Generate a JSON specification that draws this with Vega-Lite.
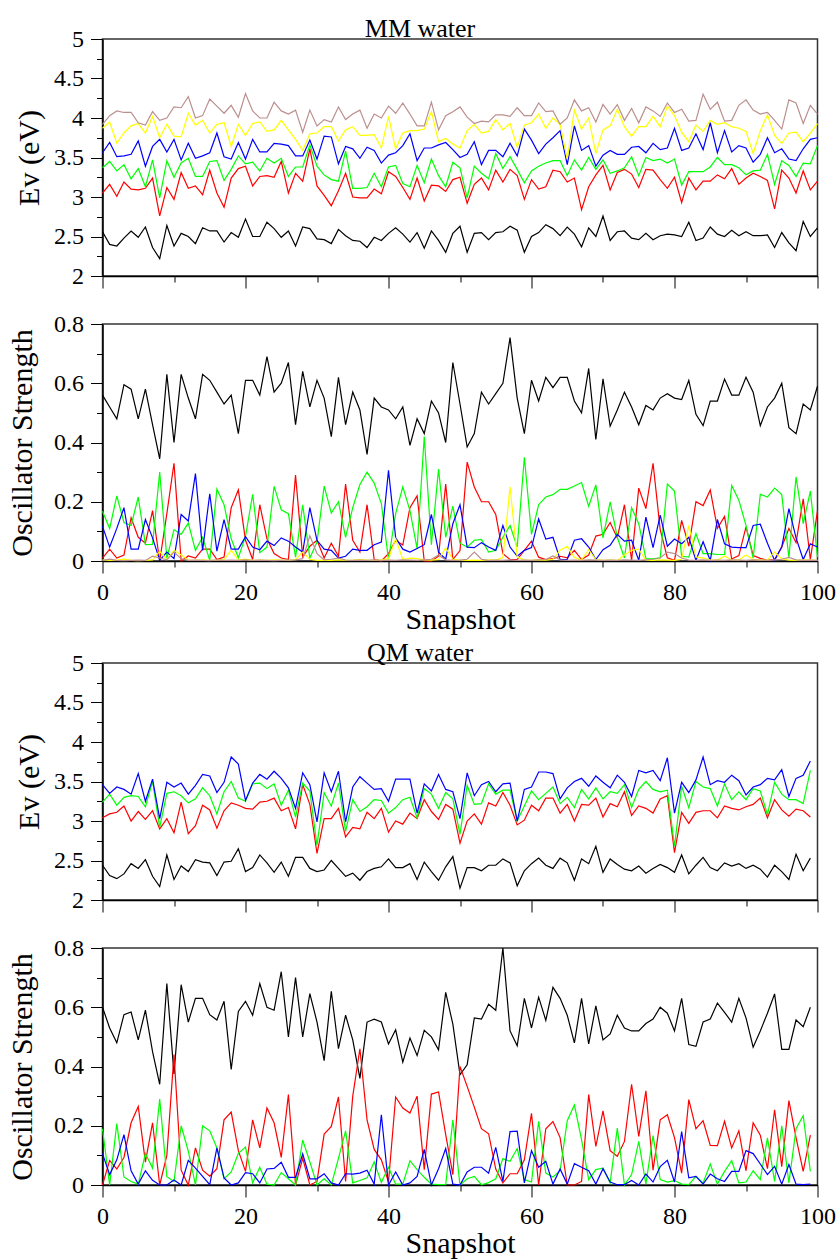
{
"$schema": "https://vega.github.io/schema/vega-lite/v6.json",
"background": "white",
"padding": {"left": 6.5, "top": 15, "right": 5, "bottom": 5},
"bounds": "flush",
"spacing": 48,
"config": {
  "font": "Liberation Serif",
  "view": {"stroke": "#333", "strokeWidth": 1.5},
  "axis": {"domainColor": "black", "domainWidth": 1.5, "tickColor": "black", "tickWidth": 1, "labelFont": "Liberation Serif", "labelFontSize": 24, "labelColor": "black", "labelPadding": 7, "titleFont": "Liberation Serif", "titleFontSize": 30, "titleFontWeight": "normal", "titleColor": "black", "grid": false, "labelOverlap": false, "labelFlush": false},
  "title": {"font": "Liberation Serif", "fontSize": 26, "fontWeight": "normal", "color": "black", "anchor": "middle", "offset": -15, "dx": -40}
},
"datasets": {
"mm_ev": [
{"snapshot":0,"S0":2.56,"S1":3.05,"S2":3.37,"S3":3.56,"S4":3.87,"S5":3.92},
{"snapshot":1,"S0":2.40,"S1":3.16,"S2":3.45,"S3":3.69,"S4":3.95,"S5":4.03},
{"snapshot":2,"S0":2.38,"S1":3.01,"S2":3.33,"S3":3.51,"S4":3.68,"S5":4.09},
{"snapshot":3,"S0":2.48,"S1":3.19,"S2":3.41,"S3":3.52,"S4":3.81,"S5":4.07},
{"snapshot":4,"S0":2.57,"S1":3.10,"S2":3.23,"S3":3.54,"S4":3.90,"S5":4.07},
{"snapshot":5,"S0":2.49,"S1":3.09,"S2":3.36,"S3":3.71,"S4":3.93,"S5":3.94},
{"snapshot":6,"S0":2.62,"S1":3.11,"S2":3.13,"S3":3.39,"S4":3.81,"S5":3.91},
{"snapshot":7,"S0":2.36,"S1":3.24,"S2":3.47,"S3":3.64,"S4":4.02,"S5":4.08},
{"snapshot":8,"S0":2.22,"S1":2.76,"S2":2.99,"S3":3.73,"S4":3.75,"S5":3.97},
{"snapshot":9,"S0":2.64,"S1":3.12,"S2":3.46,"S3":3.57,"S4":3.92,"S5":4.00},
{"snapshot":10,"S0":2.38,"S1":2.97,"S2":3.25,"S3":3.73,"S4":3.77,"S5":4.14},
{"snapshot":11,"S0":2.54,"S1":3.31,"S2":3.43,"S3":3.47,"S4":3.76,"S5":4.13},
{"snapshot":12,"S0":2.50,"S1":3.11,"S2":3.49,"S3":3.68,"S4":4.06,"S5":4.27},
{"snapshot":13,"S0":2.41,"S1":3.14,"S2":3.26,"S3":3.49,"S4":3.91,"S5":4.00},
{"snapshot":14,"S0":2.61,"S1":3.03,"S2":3.26,"S3":3.52,"S4":3.97,"S5":4.03},
{"snapshot":15,"S0":2.57,"S1":3.34,"S2":3.45,"S3":3.56,"S4":3.81,"S5":4.24},
{"snapshot":16,"S0":2.57,"S1":3.05,"S2":3.46,"S3":3.81,"S4":3.92,"S5":4.15},
{"snapshot":17,"S0":2.43,"S1":2.87,"S2":3.21,"S3":3.51,"S4":3.94,"S5":4.06},
{"snapshot":18,"S0":2.55,"S1":3.24,"S2":3.35,"S3":3.48,"S4":3.64,"S5":4.16},
{"snapshot":19,"S0":2.49,"S1":3.36,"S2":3.52,"S3":3.69,"S4":3.92,"S5":4.01},
{"snapshot":20,"S0":2.72,"S1":3.39,"S2":3.42,"S3":3.48,"S4":3.78,"S5":4.31},
{"snapshot":21,"S0":2.50,"S1":3.14,"S2":3.44,"S3":3.73,"S4":3.93,"S5":4.09},
{"snapshot":22,"S0":2.50,"S1":3.26,"S2":3.33,"S3":3.57,"S4":3.95,"S5":4.00},
{"snapshot":23,"S0":2.68,"S1":3.27,"S2":3.49,"S3":3.57,"S4":3.83,"S5":4.00},
{"snapshot":24,"S0":2.60,"S1":3.25,"S2":3.43,"S3":3.68,"S4":3.85,"S5":4.20},
{"snapshot":25,"S0":2.49,"S1":3.45,"S2":3.49,"S3":3.67,"S4":3.97,"S5":4.09},
{"snapshot":26,"S0":2.57,"S1":3.05,"S2":3.26,"S3":3.65,"S4":3.85,"S5":4.05},
{"snapshot":27,"S0":2.38,"S1":3.30,"S2":3.38,"S3":3.52,"S4":3.73,"S5":4.10},
{"snapshot":28,"S0":2.62,"S1":3.20,"S2":3.38,"S3":3.52,"S4":3.59,"S5":3.82},
{"snapshot":29,"S0":2.60,"S1":3.61,"S2":3.66,"S3":3.72,"S4":3.80,"S5":4.10},
{"snapshot":30,"S0":2.47,"S1":3.14,"S2":3.39,"S3":3.48,"S4":3.81,"S5":3.90},
{"snapshot":31,"S0":2.46,"S1":3.02,"S2":3.28,"S3":3.77,"S4":3.89,"S5":3.98},
{"snapshot":32,"S0":2.41,"S1":2.89,"S2":3.22,"S3":3.76,"S4":3.89,"S5":3.95},
{"snapshot":33,"S0":2.59,"S1":3.08,"S2":3.20,"S3":3.42,"S4":3.71,"S5":4.14},
{"snapshot":34,"S0":2.51,"S1":3.30,"S2":3.58,"S3":3.64,"S4":3.85,"S5":3.98},
{"snapshot":35,"S0":2.45,"S1":3.00,"S2":3.11,"S3":3.61,"S4":3.89,"S5":4.05},
{"snapshot":36,"S0":2.44,"S1":2.99,"S2":3.11,"S3":3.49,"S4":3.78,"S5":4.10},
{"snapshot":37,"S0":2.36,"S1":2.99,"S2":3.12,"S3":3.63,"S4":3.78,"S5":3.87},
{"snapshot":38,"S0":2.49,"S1":3.10,"S2":3.30,"S3":3.59,"S4":3.79,"S5":4.05},
{"snapshot":39,"S0":2.45,"S1":3.04,"S2":3.13,"S3":3.43,"S4":3.62,"S5":4.00},
{"snapshot":40,"S0":2.54,"S1":3.32,"S2":3.38,"S3":3.53,"S4":4.02,"S5":4.15},
{"snapshot":41,"S0":2.61,"S1":3.26,"S2":3.40,"S3":3.56,"S4":3.61,"S5":4.06},
{"snapshot":42,"S0":2.53,"S1":3.12,"S2":3.17,"S3":3.65,"S4":3.81,"S5":4.19},
{"snapshot":43,"S0":2.43,"S1":2.97,"S2":3.13,"S3":3.80,"S4":3.84,"S5":4.05},
{"snapshot":44,"S0":2.55,"S1":3.24,"S2":3.40,"S3":3.46,"S4":3.84,"S5":3.90},
{"snapshot":45,"S0":2.35,"S1":2.95,"S2":3.18,"S3":3.62,"S4":3.86,"S5":3.90},
{"snapshot":46,"S0":2.57,"S1":3.15,"S2":3.48,"S3":3.62,"S4":4.08,"S5":4.20},
{"snapshot":47,"S0":2.45,"S1":3.14,"S2":3.27,"S3":3.66,"S4":3.70,"S5":3.85},
{"snapshot":48,"S0":2.30,"S1":3.07,"S2":3.13,"S3":3.69,"S4":3.74,"S5":4.03},
{"snapshot":49,"S0":2.54,"S1":3.22,"S2":3.44,"S3":3.60,"S4":3.67,"S5":4.08},
{"snapshot":50,"S0":2.63,"S1":3.25,"S2":3.37,"S3":3.50,"S4":3.62,"S5":4.14},
{"snapshot":51,"S0":2.30,"S1":2.92,"S2":2.99,"S3":3.54,"S4":3.84,"S5":4.01},
{"snapshot":52,"S0":2.54,"S1":3.16,"S2":3.39,"S3":3.70,"S4":3.92,"S5":3.93},
{"snapshot":53,"S0":2.55,"S1":3.24,"S2":3.30,"S3":3.41,"S4":3.81,"S5":3.96},
{"snapshot":54,"S0":2.46,"S1":3.09,"S2":3.23,"S3":3.59,"S4":3.83,"S5":3.95},
{"snapshot":55,"S0":2.55,"S1":3.34,"S2":3.55,"S3":3.59,"S4":3.98,"S5":4.04},
{"snapshot":56,"S0":2.56,"S1":3.19,"S2":3.36,"S3":3.51,"S4":3.85,"S5":4.04},
{"snapshot":57,"S0":2.63,"S1":3.35,"S2":3.51,"S3":3.68,"S4":3.93,"S5":4.02},
{"snapshot":58,"S0":2.58,"S1":3.27,"S2":3.35,"S3":3.52,"S4":3.63,"S5":4.13},
{"snapshot":59,"S0":2.30,"S1":2.97,"S2":3.18,"S3":3.86,"S4":3.91,"S5":4.03},
{"snapshot":60,"S0":2.50,"S1":3.22,"S2":3.33,"S3":3.72,"S4":3.94,"S5":4.03},
{"snapshot":61,"S0":2.55,"S1":3.10,"S2":3.39,"S3":3.55,"S4":4.05,"S5":4.19},
{"snapshot":62,"S0":2.65,"S1":3.13,"S2":3.43,"S3":3.67,"S4":3.87,"S5":4.08},
{"snapshot":63,"S0":2.60,"S1":3.34,"S2":3.46,"S3":3.75,"S4":4.00,"S5":4.09},
{"snapshot":64,"S0":2.51,"S1":3.32,"S2":3.46,"S3":3.84,"S4":3.92,"S5":3.92},
{"snapshot":65,"S0":2.62,"S1":3.19,"S2":3.27,"S3":3.41,"S4":3.48,"S5":4.00},
{"snapshot":66,"S0":2.53,"S1":3.24,"S2":3.47,"S3":3.90,"S4":4.10,"S5":4.23},
{"snapshot":67,"S0":2.37,"S1":2.84,"S2":3.34,"S3":3.59,"S4":3.86,"S5":4.09},
{"snapshot":68,"S0":2.61,"S1":3.13,"S2":3.50,"S3":3.65,"S4":4.00,"S5":4.13},
{"snapshot":69,"S0":2.50,"S1":3.28,"S2":3.35,"S3":3.39,"S4":3.55,"S5":3.95},
{"snapshot":70,"S0":2.76,"S1":3.40,"S2":3.47,"S3":3.53,"S4":3.85,"S5":4.17},
{"snapshot":71,"S0":2.45,"S1":3.09,"S2":3.30,"S3":3.59,"S4":3.90,"S5":4.05},
{"snapshot":72,"S0":2.56,"S1":3.31,"S2":3.33,"S3":3.54,"S4":4.11,"S5":4.17},
{"snapshot":73,"S0":2.57,"S1":3.35,"S2":3.37,"S3":3.54,"S4":3.89,"S5":3.97},
{"snapshot":74,"S0":2.48,"S1":3.29,"S2":3.51,"S3":3.63,"S4":3.77,"S5":4.12},
{"snapshot":75,"S0":2.46,"S1":3.12,"S2":3.27,"S3":3.64,"S4":3.89,"S5":3.94},
{"snapshot":76,"S0":2.54,"S1":3.35,"S2":3.50,"S3":3.56,"S4":3.89,"S5":4.14},
{"snapshot":77,"S0":2.46,"S1":3.34,"S2":3.46,"S3":3.68,"S4":4.02,"S5":4.09},
{"snapshot":78,"S0":2.51,"S1":3.22,"S2":3.48,"S3":3.60,"S4":3.89,"S5":4.02},
{"snapshot":79,"S0":2.53,"S1":3.11,"S2":3.43,"S3":3.62,"S4":4.15,"S5":4.19},
{"snapshot":80,"S0":2.52,"S1":3.25,"S2":3.48,"S3":3.87,"S4":4.03,"S5":4.07},
{"snapshot":81,"S0":2.50,"S1":2.93,"S2":3.15,"S3":3.59,"S4":3.82,"S5":4.11},
{"snapshot":82,"S0":2.68,"S1":3.24,"S2":3.32,"S3":3.62,"S4":3.70,"S5":3.96},
{"snapshot":83,"S0":2.45,"S1":3.09,"S2":3.32,"S3":3.80,"S4":3.91,"S5":3.97},
{"snapshot":84,"S0":2.48,"S1":3.20,"S2":3.32,"S3":3.60,"S4":3.83,"S5":4.30},
{"snapshot":85,"S0":2.62,"S1":3.20,"S2":3.38,"S3":3.94,"S4":3.97,"S5":4.11},
{"snapshot":86,"S0":2.53,"S1":3.28,"S2":3.50,"S3":3.56,"S4":3.92,"S5":4.20},
{"snapshot":87,"S0":2.50,"S1":3.23,"S2":3.41,"S3":3.84,"S4":3.94,"S5":3.96},
{"snapshot":88,"S0":2.58,"S1":3.36,"S2":3.41,"S3":3.57,"S4":3.89,"S5":3.97},
{"snapshot":89,"S0":2.51,"S1":3.16,"S2":3.37,"S3":3.65,"S4":3.87,"S5":4.16},
{"snapshot":90,"S0":2.56,"S1":3.24,"S2":3.28,"S3":3.62,"S4":3.83,"S5":4.23},
{"snapshot":91,"S0":2.51,"S1":3.30,"S2":3.33,"S3":3.44,"S4":3.55,"S5":4.10},
{"snapshot":92,"S0":2.51,"S1":3.26,"S2":3.34,"S3":3.54,"S4":3.84,"S5":4.05},
{"snapshot":93,"S0":2.52,"S1":3.21,"S2":3.54,"S3":3.75,"S4":4.04,"S5":4.07},
{"snapshot":94,"S0":2.36,"S1":2.85,"S2":3.16,"S3":3.56,"S4":3.78,"S5":3.97},
{"snapshot":95,"S0":2.55,"S1":3.34,"S2":3.46,"S3":3.61,"S4":3.68,"S5":3.86},
{"snapshot":96,"S0":2.42,"S1":3.24,"S2":3.40,"S3":3.48,"S4":3.81,"S5":4.23},
{"snapshot":97,"S0":2.32,"S1":3.05,"S2":3.26,"S3":3.46,"S4":3.82,"S5":4.19},
{"snapshot":98,"S0":2.69,"S1":3.33,"S2":3.43,"S3":3.61,"S4":3.70,"S5":3.93},
{"snapshot":99,"S0":2.50,"S1":3.09,"S2":3.42,"S3":3.73,"S4":3.81,"S5":4.16},
{"snapshot":100,"S0":2.61,"S1":3.20,"S2":3.65,"S3":3.75,"S4":3.93,"S5":4.05}
],
"mm_f": [
{"snapshot":0,"S0":0.56,"S1":0.01,"S2":0.168,"S3":0.117,"S4":0.004,"S5":0.002},
{"snapshot":1,"S0":0.52,"S1":0.04,"S2":0.11,"S3":0.047,"S4":0.002,"S5":0.006},
{"snapshot":2,"S0":0.48,"S1":0.01,"S2":0.22,"S3":0.11,"S4":0.003,"S5":0.002},
{"snapshot":3,"S0":0.595,"S1":0.02,"S2":0.13,"S3":0.18,"S4":0.006,"S5":0.001},
{"snapshot":4,"S0":0.58,"S1":0.146,"S2":0.12,"S3":0.04,"S4":0.002,"S5":0.002},
{"snapshot":5,"S0":0.48,"S1":0.08,"S2":0.216,"S3":0.04,"S4":0.001,"S5":0.003},
{"snapshot":6,"S0":0.58,"S1":0.06,"S2":0.055,"S3":0.14,"S4":0.002,"S5":0.002},
{"snapshot":7,"S0":0.46,"S1":0.17,"S2":0.056,"S3":0.078,"S4":0.004,"S5":0.016},
{"snapshot":8,"S0":0.345,"S1":0.0,"S2":0.30,"S3":0.002,"S4":0.033,"S5":0.01},
{"snapshot":9,"S0":0.63,"S1":0.16,"S2":0.009,"S3":0.03,"S4":0.005,"S5":0.004},
{"snapshot":10,"S0":0.40,"S1":0.33,"S2":0.106,"S3":0.008,"S4":0.036,"S5":0.03},
{"snapshot":11,"S0":0.63,"S1":0.0,"S2":0.09,"S3":0.157,"S4":0.02,"S5":0.008},
{"snapshot":12,"S0":0.55,"S1":0.017,"S2":0.128,"S3":0.135,"S4":0.003,"S5":0.002},
{"snapshot":13,"S0":0.48,"S1":0.01,"S2":0.036,"S3":0.295,"S4":0.002,"S5":0.003},
{"snapshot":14,"S0":0.63,"S1":0.04,"S2":0.08,"S3":0.036,"S4":0.004,"S5":0.002},
{"snapshot":15,"S0":0.61,"S1":0.04,"S2":0.002,"S3":0.227,"S4":0.002,"S5":0.001},
{"snapshot":16,"S0":0.57,"S1":0.005,"S2":0.243,"S3":0.033,"S4":0.003,"S5":0.004},
{"snapshot":17,"S0":0.53,"S1":0.013,"S2":0.19,"S3":0.14,"S4":0.005,"S5":0.002},
{"snapshot":18,"S0":0.56,"S1":0.18,"S2":0.075,"S3":0.04,"S4":0.036,"S5":0.003},
{"snapshot":19,"S0":0.43,"S1":0.24,"S2":0.011,"S3":0.04,"S4":0.004,"S5":0.002},
{"snapshot":20,"S0":0.61,"S1":0.07,"S2":0.083,"S3":0.082,"S4":0.006,"S5":0.004},
{"snapshot":21,"S0":0.61,"S1":0.005,"S2":0.225,"S3":0.047,"S4":0.002,"S5":0.002},
{"snapshot":22,"S0":0.56,"S1":0.19,"S2":0.028,"S3":0.038,"S4":0.003,"S5":0.003},
{"snapshot":23,"S0":0.69,"S1":0.075,"S2":0.047,"S3":0.067,"S4":0.002,"S5":0.002},
{"snapshot":24,"S0":0.57,"S1":0.025,"S2":0.252,"S3":0.052,"S4":0.004,"S5":0.001},
{"snapshot":25,"S0":0.60,"S1":0.01,"S2":0.173,"S3":0.078,"S4":0.003,"S5":0.002},
{"snapshot":26,"S0":0.67,"S1":0.005,"S2":0.16,"S3":0.067,"S4":0.002,"S5":0.003},
{"snapshot":27,"S0":0.46,"S1":0.29,"S2":0.013,"S3":0.047,"S4":0.005,"S5":0.004},
{"snapshot":28,"S0":0.64,"S1":0.013,"S2":0.19,"S3":0.03,"S4":0.03,"S5":0.008},
{"snapshot":29,"S0":0.52,"S1":0.05,"S2":0.01,"S3":0.18,"S4":0.006,"S5":0.085},
{"snapshot":30,"S0":0.61,"S1":0.07,"S2":0.064,"S3":0.07,"S4":0.002,"S5":0.025},
{"snapshot":31,"S0":0.55,"S1":0.01,"S2":0.253,"S3":0.04,"S4":0.003,"S5":0.004},
{"snapshot":32,"S0":0.42,"S1":0.06,"S2":0.162,"S3":0.036,"S4":0.002,"S5":0.006},
{"snapshot":33,"S0":0.62,"S1":0.016,"S2":0.20,"S3":0.01,"S4":0.004,"S5":0.01},
{"snapshot":34,"S0":0.46,"S1":0.26,"S2":0.08,"S3":0.016,"S4":0.002,"S5":0.003},
{"snapshot":35,"S0":0.57,"S1":0.07,"S2":0.18,"S3":0.04,"S4":0.003,"S5":0.002},
{"snapshot":36,"S0":0.51,"S1":0.03,"S2":0.258,"S3":0.036,"S4":0.005,"S5":0.003},
{"snapshot":37,"S0":0.36,"S1":0.19,"S2":0.30,"S3":0.036,"S4":0.003,"S5":0.002},
{"snapshot":38,"S0":0.55,"S1":0.005,"S2":0.263,"S3":0.055,"S4":0.002,"S5":0.004},
{"snapshot":39,"S0":0.52,"S1":0.0,"S2":0.194,"S3":0.064,"S4":0.004,"S5":0.002},
{"snapshot":40,"S0":0.51,"S1":0.025,"S2":0.005,"S3":0.306,"S4":0.008,"S5":0.003},
{"snapshot":41,"S0":0.48,"S1":0.07,"S2":0.16,"S3":0.078,"S4":0.075,"S5":0.002},
{"snapshot":42,"S0":0.52,"S1":0.054,"S2":0.25,"S3":0.04,"S4":0.005,"S5":0.004},
{"snapshot":43,"S0":0.39,"S1":0.18,"S2":0.17,"S3":0.03,"S4":0.01,"S5":0.003},
{"snapshot":44,"S0":0.48,"S1":0.22,"S2":0.042,"S3":0.042,"S4":0.008,"S5":0.002},
{"snapshot":45,"S0":0.43,"S1":0.0,"S2":0.42,"S3":0.055,"S4":0.004,"S5":0.004},
{"snapshot":46,"S0":0.54,"S1":0.0,"S2":0.055,"S3":0.157,"S4":0.003,"S5":0.006},
{"snapshot":47,"S0":0.50,"S1":0.016,"S2":0.31,"S3":0.03,"S4":0.005,"S5":0.02},
{"snapshot":48,"S0":0.40,"S1":0.26,"S2":0.08,"S3":0.006,"S4":0.044,"S5":0.004},
{"snapshot":49,"S0":0.67,"S1":0.005,"S2":0.185,"S3":0.126,"S4":0.006,"S5":0.002},
{"snapshot":50,"S0":0.53,"S1":0.035,"S2":0.06,"S3":0.19,"S4":0.003,"S5":0.003},
{"snapshot":51,"S0":0.385,"S1":0.334,"S2":0.047,"S3":0.047,"S4":0.002,"S5":0.006},
{"snapshot":52,"S0":0.43,"S1":0.25,"S2":0.07,"S3":0.045,"S4":0.003,"S5":0.03},
{"snapshot":53,"S0":0.57,"S1":0.20,"S2":0.073,"S3":0.062,"S4":0.002,"S5":0.006},
{"snapshot":54,"S0":0.53,"S1":0.20,"S2":0.03,"S3":0.047,"S4":0.004,"S5":0.002},
{"snapshot":55,"S0":0.565,"S1":0.157,"S2":0.036,"S3":0.036,"S4":0.003,"S5":0.003},
{"snapshot":56,"S0":0.60,"S1":0.025,"S2":0.08,"S3":0.12,"S4":0.012,"S5":0.002},
{"snapshot":57,"S0":0.754,"S1":0.005,"S2":0.12,"S3":0.047,"S4":0.25,"S5":0.004},
{"snapshot":58,"S0":0.55,"S1":0.005,"S2":0.047,"S3":0.016,"S4":0.014,"S5":0.002},
{"snapshot":59,"S0":0.43,"S1":0.036,"S2":0.35,"S3":0.036,"S4":0.003,"S5":0.003},
{"snapshot":60,"S0":0.61,"S1":0.067,"S2":0.09,"S3":0.045,"S4":0.002,"S5":0.002},
{"snapshot":61,"S0":0.54,"S1":0.013,"S2":0.19,"S3":0.142,"S4":0.004,"S5":0.004},
{"snapshot":62,"S0":0.62,"S1":0.005,"S2":0.216,"S3":0.074,"S4":0.003,"S5":0.005},
{"snapshot":63,"S0":0.585,"S1":0.008,"S2":0.224,"S3":0.08,"S4":0.006,"S5":0.017},
{"snapshot":64,"S0":0.62,"S1":0.016,"S2":0.242,"S3":0.005,"S4":0.036,"S5":0.004},
{"snapshot":65,"S0":0.62,"S1":0.011,"S2":0.242,"S3":0.005,"S4":0.05,"S5":0.002},
{"snapshot":66,"S0":0.54,"S1":0.036,"S2":0.253,"S3":0.07,"S4":0.012,"S5":0.003},
{"snapshot":67,"S0":0.50,"S1":0.005,"S2":0.265,"S3":0.075,"S4":0.004,"S5":0.002},
{"snapshot":68,"S0":0.65,"S1":0.02,"S2":0.185,"S3":0.047,"S4":0.038,"S5":0.004},
{"snapshot":69,"S0":0.41,"S1":0.084,"S2":0.257,"S3":0.005,"S4":0.005,"S5":0.003},
{"snapshot":70,"S0":0.615,"S1":0.09,"S2":0.078,"S3":0.038,"S4":0.002,"S5":0.002},
{"snapshot":71,"S0":0.455,"S1":0.13,"S2":0.20,"S3":0.053,"S4":0.003,"S5":0.003},
{"snapshot":72,"S0":0.51,"S1":0.078,"S2":0.08,"S3":0.09,"S4":0.002,"S5":0.002},
{"snapshot":73,"S0":0.57,"S1":0.19,"S2":0.01,"S3":0.067,"S4":0.02,"S5":0.004},
{"snapshot":74,"S0":0.52,"S1":0.002,"S2":0.18,"S3":0.07,"S4":0.036,"S5":0.003},
{"snapshot":75,"S0":0.46,"S1":0.246,"S2":0.126,"S3":0.002,"S4":0.04,"S5":0.002},
{"snapshot":76,"S0":0.525,"S1":0.177,"S2":0.008,"S3":0.148,"S4":0.003,"S5":0.004},
{"snapshot":77,"S0":0.51,"S1":0.33,"S2":0.007,"S3":0.045,"S4":0.002,"S5":0.006},
{"snapshot":78,"S0":0.55,"S1":0.106,"S2":0.011,"S3":0.155,"S4":0.004,"S5":0.01},
{"snapshot":79,"S0":0.565,"S1":0.011,"S2":0.26,"S3":0.05,"S4":0.003,"S5":0.03},
{"snapshot":80,"S0":0.55,"S1":0.002,"S2":0.236,"S3":0.074,"S4":0.002,"S5":0.025},
{"snapshot":81,"S0":0.545,"S1":0.137,"S2":0.016,"S3":0.058,"S4":0.006,"S5":0.01},
{"snapshot":82,"S0":0.61,"S1":0.05,"S2":0.013,"S3":0.08,"S4":0.12,"S5":0.003},
{"snapshot":83,"S0":0.495,"S1":0.20,"S2":0.092,"S3":0.002,"S4":0.014,"S5":0.002},
{"snapshot":84,"S0":0.457,"S1":0.187,"S2":0.025,"S3":0.065,"S4":0.01,"S5":0.004},
{"snapshot":85,"S0":0.54,"S1":0.24,"S2":0.025,"S3":0.002,"S4":0.004,"S5":0.002},
{"snapshot":86,"S0":0.54,"S1":0.11,"S2":0.022,"S3":0.14,"S4":0.003,"S5":0.003},
{"snapshot":87,"S0":0.614,"S1":0.15,"S2":0.022,"S3":0.058,"S4":0.016,"S5":0.002},
{"snapshot":88,"S0":0.56,"S1":0.007,"S2":0.255,"S3":0.047,"S4":0.004,"S5":0.004},
{"snapshot":89,"S0":0.56,"S1":0.018,"S2":0.205,"S3":0.045,"S4":0.003,"S5":0.003},
{"snapshot":90,"S0":0.62,"S1":0.115,"S2":0.12,"S3":0.045,"S4":0.02,"S5":0.002},
{"snapshot":91,"S0":0.57,"S1":0.018,"S2":0.01,"S3":0.12,"S4":0.005,"S5":0.004},
{"snapshot":92,"S0":0.457,"S1":0.009,"S2":0.225,"S3":0.124,"S4":0.003,"S5":0.003},
{"snapshot":93,"S0":0.52,"S1":0.002,"S2":0.216,"S3":0.06,"S4":0.004,"S5":0.002},
{"snapshot":94,"S0":0.55,"S1":0.005,"S2":0.246,"S3":0.002,"S4":0.03,"S5":0.004},
{"snapshot":95,"S0":0.60,"S1":0.047,"S2":0.224,"S3":0.047,"S4":0.008,"S5":0.006},
{"snapshot":96,"S0":0.45,"S1":0.11,"S2":0.011,"S3":0.177,"S4":0.003,"S5":0.012},
{"snapshot":97,"S0":0.43,"S1":0.062,"S2":0.284,"S3":0.078,"S4":0.002,"S5":0.004},
{"snapshot":98,"S0":0.53,"S1":0.21,"S2":0.126,"S3":0.005,"S4":0.004,"S5":0.002},
{"snapshot":99,"S0":0.51,"S1":0.005,"S2":0.236,"S3":0.058,"S4":0.003,"S5":0.003},
{"snapshot":100,"S0":0.59,"S1":0.17,"S2":0.013,"S3":0.047,"S4":0.002,"S5":0.002}
],
"qm_ev": [
{"snapshot":0,"S0":2.44,"S1":3.04,"S2":3.24,"S3":3.46},
{"snapshot":1,"S0":2.31,"S1":3.09,"S2":3.34,"S3":3.35},
{"snapshot":2,"S0":2.27,"S1":3.11,"S2":3.20,"S3":3.43},
{"snapshot":3,"S0":2.33,"S1":3.19,"S2":3.30,"S3":3.40},
{"snapshot":4,"S0":2.46,"S1":3.00,"S2":3.32,"S3":3.34},
{"snapshot":5,"S0":2.40,"S1":3.12,"S2":3.31,"S3":3.60},
{"snapshot":6,"S0":2.51,"S1":3.02,"S2":3.18,"S3":3.25},
{"snapshot":7,"S0":2.30,"S1":3.13,"S2":3.50,"S3":3.53},
{"snapshot":8,"S0":2.17,"S1":2.90,"S2":2.92,"S3":3.03},
{"snapshot":9,"S0":2.57,"S1":3.03,"S2":3.35,"S3":3.49},
{"snapshot":10,"S0":2.26,"S1":2.85,"S2":3.37,"S3":3.43},
{"snapshot":11,"S0":2.43,"S1":3.24,"S2":3.32,"S3":3.48},
{"snapshot":12,"S0":2.36,"S1":2.84,"S2":3.23,"S3":3.34},
{"snapshot":13,"S0":2.51,"S1":2.94,"S2":3.28,"S3":3.45},
{"snapshot":14,"S0":2.48,"S1":3.20,"S2":3.42,"S3":3.59},
{"snapshot":15,"S0":2.47,"S1":3.14,"S2":3.32,"S3":3.57},
{"snapshot":16,"S0":2.31,"S1":2.91,"S2":3.09,"S3":3.36},
{"snapshot":17,"S0":2.48,"S1":3.13,"S2":3.37,"S3":3.49},
{"snapshot":18,"S0":2.49,"S1":3.23,"S2":3.50,"S3":3.81},
{"snapshot":19,"S0":2.65,"S1":3.20,"S2":3.29,"S3":3.72},
{"snapshot":20,"S0":2.36,"S1":3.16,"S2":3.25,"S3":3.26},
{"snapshot":21,"S0":2.41,"S1":3.15,"S2":3.47,"S3":3.48},
{"snapshot":22,"S0":2.57,"S1":3.24,"S2":3.48,"S3":3.59},
{"snapshot":23,"S0":2.47,"S1":3.25,"S2":3.41,"S3":3.53},
{"snapshot":24,"S0":2.35,"S1":3.29,"S2":3.47,"S3":3.63},
{"snapshot":25,"S0":2.48,"S1":3.13,"S2":3.20,"S3":3.54},
{"snapshot":26,"S0":2.30,"S1":3.17,"S2":3.39,"S3":3.42},
{"snapshot":27,"S0":2.54,"S1":2.90,"S2":3.05,"S3":3.16},
{"snapshot":28,"S0":2.54,"S1":3.46,"S2":3.48,"S3":3.61},
{"snapshot":29,"S0":2.40,"S1":3.21,"S2":3.38,"S3":3.46},
{"snapshot":30,"S0":2.36,"S1":2.59,"S2":2.69,"S3":2.99},
{"snapshot":31,"S0":2.38,"S1":3.03,"S2":3.36,"S3":3.61},
{"snapshot":32,"S0":2.50,"S1":3.03,"S2":3.19,"S3":3.37},
{"snapshot":33,"S0":2.40,"S1":3.16,"S2":3.48,"S3":3.63},
{"snapshot":34,"S0":2.30,"S1":2.80,"S2":2.87,"S3":2.99},
{"snapshot":35,"S0":2.34,"S1":2.92,"S2":3.27,"S3":3.43},
{"snapshot":36,"S0":2.25,"S1":2.90,"S2":3.12,"S3":3.56},
{"snapshot":37,"S0":2.36,"S1":3.11,"S2":3.18,"S3":3.48},
{"snapshot":38,"S0":2.40,"S1":3.03,"S2":3.27,"S3":3.40},
{"snapshot":39,"S0":2.42,"S1":3.16,"S2":3.26,"S3":3.41},
{"snapshot":40,"S0":2.52,"S1":2.86,"S2":3.10,"S3":3.25},
{"snapshot":41,"S0":2.41,"S1":3.00,"S2":3.17,"S3":3.53},
{"snapshot":42,"S0":2.41,"S1":2.96,"S2":3.27,"S3":3.53},
{"snapshot":43,"S0":2.46,"S1":3.10,"S2":3.30,"S3":3.53},
{"snapshot":44,"S0":2.26,"S1":3.03,"S2":3.04,"S3":3.10},
{"snapshot":45,"S0":2.48,"S1":3.27,"S2":3.41,"S3":3.47},
{"snapshot":46,"S0":2.36,"S1":3.12,"S2":3.34,"S3":3.38},
{"snapshot":47,"S0":2.25,"S1":3.02,"S2":3.16,"S3":3.59},
{"snapshot":48,"S0":2.42,"S1":3.21,"S2":3.36,"S3":3.40},
{"snapshot":49,"S0":2.55,"S1":3.15,"S2":3.28,"S3":3.37},
{"snapshot":50,"S0":2.15,"S1":2.72,"S2":2.83,"S3":3.03},
{"snapshot":51,"S0":2.41,"S1":3.00,"S2":3.45,"S3":3.61},
{"snapshot":52,"S0":2.41,"S1":3.09,"S2":3.21,"S3":3.32},
{"snapshot":53,"S0":2.37,"S1":2.96,"S2":3.22,"S3":3.46},
{"snapshot":54,"S0":2.44,"S1":3.23,"S2":3.47,"S3":3.50},
{"snapshot":55,"S0":2.44,"S1":3.19,"S2":3.34,"S3":3.37},
{"snapshot":56,"S0":2.52,"S1":3.36,"S2":3.39,"S3":3.47},
{"snapshot":57,"S0":2.47,"S1":3.20,"S2":3.39,"S3":3.48},
{"snapshot":58,"S0":2.18,"S1":2.95,"S2":3.00,"S3":3.00},
{"snapshot":59,"S0":2.37,"S1":3.01,"S2":3.19,"S3":3.40},
{"snapshot":60,"S0":2.46,"S1":3.20,"S2":3.38,"S3":3.43},
{"snapshot":61,"S0":2.53,"S1":3.13,"S2":3.27,"S3":3.62},
{"snapshot":62,"S0":2.44,"S1":3.29,"S2":3.35,"S3":3.62},
{"snapshot":63,"S0":2.40,"S1":3.29,"S2":3.43,"S3":3.60},
{"snapshot":64,"S0":2.53,"S1":3.10,"S2":3.22,"S3":3.28},
{"snapshot":65,"S0":2.47,"S1":3.21,"S2":3.30,"S3":3.42},
{"snapshot":66,"S0":2.25,"S1":3.00,"S2":3.17,"S3":3.50},
{"snapshot":67,"S0":2.52,"S1":3.21,"S2":3.40,"S3":3.54},
{"snapshot":68,"S0":2.46,"S1":3.20,"S2":3.28,"S3":3.44},
{"snapshot":69,"S0":2.68,"S1":3.29,"S2":3.42,"S3":3.57},
{"snapshot":70,"S0":2.35,"S1":3.05,"S2":3.28,"S3":3.49},
{"snapshot":71,"S0":2.52,"S1":3.22,"S2":3.37,"S3":3.42},
{"snapshot":72,"S0":2.45,"S1":3.18,"S2":3.35,"S3":3.58},
{"snapshot":73,"S0":2.39,"S1":3.37,"S2":3.46,"S3":3.49},
{"snapshot":74,"S0":2.37,"S1":3.07,"S2":3.17,"S3":3.31},
{"snapshot":75,"S0":2.43,"S1":3.19,"S2":3.40,"S3":3.64},
{"snapshot":76,"S0":2.34,"S1":3.16,"S2":3.50,"S3":3.61},
{"snapshot":77,"S0":2.40,"S1":3.10,"S2":3.40,"S3":3.64},
{"snapshot":78,"S0":2.45,"S1":3.28,"S2":3.37,"S3":3.51},
{"snapshot":79,"S0":2.41,"S1":3.32,"S2":3.39,"S3":3.80},
{"snapshot":80,"S0":2.35,"S1":2.60,"S2":2.68,"S3":3.10},
{"snapshot":81,"S0":2.57,"S1":3.11,"S2":3.44,"S3":3.49},
{"snapshot":82,"S0":2.33,"S1":2.97,"S2":3.17,"S3":3.36},
{"snapshot":83,"S0":2.44,"S1":3.11,"S2":3.50,"S3":3.52},
{"snapshot":84,"S0":2.54,"S1":3.13,"S2":3.43,"S3":3.81},
{"snapshot":85,"S0":2.41,"S1":3.13,"S2":3.41,"S3":3.46},
{"snapshot":86,"S0":2.37,"S1":3.04,"S2":3.19,"S3":3.51},
{"snapshot":87,"S0":2.47,"S1":3.19,"S2":3.47,"S3":3.49},
{"snapshot":88,"S0":2.43,"S1":3.16,"S2":3.27,"S3":3.58},
{"snapshot":89,"S0":2.46,"S1":3.14,"S2":3.37,"S3":3.51},
{"snapshot":90,"S0":2.40,"S1":3.18,"S2":3.27,"S3":3.33},
{"snapshot":91,"S0":2.44,"S1":3.21,"S2":3.41,"S3":3.43},
{"snapshot":92,"S0":2.39,"S1":3.29,"S2":3.38,"S3":3.46},
{"snapshot":93,"S0":2.29,"S1":3.04,"S2":3.08,"S3":3.54},
{"snapshot":94,"S0":2.44,"S1":3.27,"S2":3.49,"S3":3.52},
{"snapshot":95,"S0":2.36,"S1":3.14,"S2":3.34,"S3":3.65},
{"snapshot":96,"S0":2.26,"S1":3.06,"S2":3.27,"S3":3.31},
{"snapshot":97,"S0":2.58,"S1":3.15,"S2":3.27,"S3":3.54},
{"snapshot":98,"S0":2.37,"S1":3.13,"S2":3.22,"S3":3.58},
{"snapshot":99,"S0":2.53,"S1":3.05,"S2":3.64,"S3":3.76}
],
"qm_f": [
{"snapshot":0,"S0":0.60,"S1":0.0,"S2":0.19,"S3":0.106},
{"snapshot":1,"S0":0.53,"S1":0.083,"S2":0.0,"S3":0.035},
{"snapshot":2,"S0":0.48,"S1":0.054,"S2":0.207,"S3":0.085},
{"snapshot":3,"S0":0.575,"S1":0.093,"S2":0.027,"S3":0.17},
{"snapshot":4,"S0":0.584,"S1":0.21,"S2":0.012,"S3":0.048},
{"snapshot":5,"S0":0.49,"S1":0.265,"S2":0.003,"S3":0.003},
{"snapshot":6,"S0":0.59,"S1":0.077,"S2":0.106,"S3":0.048},
{"snapshot":7,"S0":0.45,"S1":0.21,"S2":0.057,"S3":0.016},
{"snapshot":8,"S0":0.34,"S1":0.0,"S2":0.29,"S3":0.0},
{"snapshot":9,"S0":0.68,"S1":0.10,"S2":0.028,"S3":0.0},
{"snapshot":10,"S0":0.375,"S1":0.44,"S2":0.012,"S3":0.017},
{"snapshot":11,"S0":0.676,"S1":0.05,"S2":0.20,"S3":0.0},
{"snapshot":12,"S0":0.55,"S1":0.0,"S2":0.114,"S3":0.083},
{"snapshot":13,"S0":0.63,"S1":0.125,"S2":0.0,"S3":0.057},
{"snapshot":14,"S0":0.63,"S1":0.05,"S2":0.20,"S3":0.029},
{"snapshot":15,"S0":0.575,"S1":0.03,"S2":0.183,"S3":0.001},
{"snapshot":16,"S0":0.557,"S1":0.055,"S2":0.125,"S3":0.125},
{"snapshot":17,"S0":0.62,"S1":0.22,"S2":0.021,"S3":0.024},
{"snapshot":18,"S0":0.39,"S1":0.246,"S2":0.044,"S3":0.0},
{"snapshot":19,"S0":0.586,"S1":0.116,"S2":0.107,"S3":0.007},
{"snapshot":20,"S0":0.62,"S1":0.046,"S2":0.128,"S3":0.042},
{"snapshot":21,"S0":0.573,"S1":0.22,"S2":0.007,"S3":0.038},
{"snapshot":22,"S0":0.68,"S1":0.125,"S2":0.06,"S3":0.007},
{"snapshot":23,"S0":0.60,"S1":0.26,"S2":0.003,"S3":0.054},
{"snapshot":24,"S0":0.59,"S1":0.21,"S2":0.0,"S3":0.056},
{"snapshot":25,"S0":0.72,"S1":0.093,"S2":0.042,"S3":0.077},
{"snapshot":26,"S0":0.50,"S1":0.305,"S2":0.021,"S3":0.026},
{"snapshot":27,"S0":0.70,"S1":0.0,"S2":0.0,"S3":0.026},
{"snapshot":28,"S0":0.50,"S1":0.09,"S2":0.152,"S3":0.105},
{"snapshot":29,"S0":0.646,"S1":0.0,"S2":0.078,"S3":0.021},
{"snapshot":30,"S0":0.55,"S1":0.012,"S2":0.0,"S3":0.021},
{"snapshot":31,"S0":0.42,"S1":0.172,"S2":0.021,"S3":0.038},
{"snapshot":32,"S0":0.654,"S1":0.198,"S2":0.0,"S3":0.007},
{"snapshot":33,"S0":0.46,"S1":0.297,"S2":0.09,"S3":0.0},
{"snapshot":34,"S0":0.573,"S1":0.012,"S2":0.183,"S3":0.038},
{"snapshot":35,"S0":0.49,"S1":0.30,"S2":0.007,"S3":0.037},
{"snapshot":36,"S0":0.36,"S1":0.46,"S2":0.015,"S3":0.04},
{"snapshot":37,"S0":0.55,"S1":0.22,"S2":0.024,"S3":0.05},
{"snapshot":38,"S0":0.56,"S1":0.12,"S2":0.078,"S3":0.003},
{"snapshot":39,"S0":0.55,"S1":0.085,"S2":0.009,"S3":0.237},
{"snapshot":40,"S0":0.476,"S1":0.01,"S2":0.06,"S3":0.0},
{"snapshot":41,"S0":0.524,"S1":0.297,"S2":0.003,"S3":0.044},
{"snapshot":42,"S0":0.415,"S1":0.26,"S2":0.003,"S3":0.0},
{"snapshot":43,"S0":0.496,"S1":0.243,"S2":0.082,"S3":0.007},
{"snapshot":44,"S0":0.437,"S1":0.30,"S2":0.052,"S3":0.029},
{"snapshot":45,"S0":0.522,"S1":0.052,"S2":0.026,"S3":0.12},
{"snapshot":46,"S0":0.50,"S1":0.307,"S2":0.003,"S3":0.0},
{"snapshot":47,"S0":0.456,"S1":0.314,"S2":0.001,"S3":0.055},
{"snapshot":48,"S0":0.65,"S1":0.17,"S2":0.001,"S3":0.123},
{"snapshot":49,"S0":0.543,"S1":0.035,"S2":0.22,"S3":0.003},
{"snapshot":50,"S0":0.372,"S1":0.40,"S2":0.0,"S3":0.0},
{"snapshot":51,"S0":0.406,"S1":0.333,"S2":0.021,"S3":0.044},
{"snapshot":52,"S0":0.564,"S1":0.263,"S2":0.029,"S3":0.06},
{"snapshot":53,"S0":0.56,"S1":0.19,"S2":0.001,"S3":0.06},
{"snapshot":54,"S0":0.61,"S1":0.173,"S2":0.008,"S3":0.04},
{"snapshot":55,"S0":0.59,"S1":0.054,"S2":0.021,"S3":0.127},
{"snapshot":56,"S0":0.80,"S1":0.007,"S2":0.089,"S3":0.012},
{"snapshot":57,"S0":0.52,"S1":0.038,"S2":0.08,"S3":0.18},
{"snapshot":58,"S0":0.47,"S1":0.038,"S2":0.123,"S3":0.182},
{"snapshot":59,"S0":0.63,"S1":0.085,"S2":0.018,"S3":0.007},
{"snapshot":60,"S0":0.53,"S1":0.242,"S2":0.01,"S3":0.116},
{"snapshot":61,"S0":0.634,"S1":0.0,"S2":0.215,"S3":0.06},
{"snapshot":62,"S0":0.556,"S1":0.19,"S2":0.04,"S3":0.08},
{"snapshot":63,"S0":0.667,"S1":0.214,"S2":0.027,"S3":0.003},
{"snapshot":64,"S0":0.63,"S1":0.16,"S2":0.048,"S3":0.054},
{"snapshot":65,"S0":0.573,"S1":0.0,"S2":0.217,"S3":0.003},
{"snapshot":66,"S0":0.48,"S1":0.0,"S2":0.27,"S3":0.072},
{"snapshot":67,"S0":0.63,"S1":0.012,"S2":0.153,"S3":0.06},
{"snapshot":68,"S0":0.476,"S1":0.305,"S2":0.018,"S3":0.048},
{"snapshot":69,"S0":0.605,"S1":0.13,"S2":0.052,"S3":0.003},
{"snapshot":70,"S0":0.49,"S1":0.25,"S2":0.057,"S3":0.055},
{"snapshot":71,"S0":0.51,"S1":0.116,"S2":0.007,"S3":0.01},
{"snapshot":72,"S0":0.573,"S1":0.097,"S2":0.192,"S3":0.001},
{"snapshot":73,"S0":0.53,"S1":0.147,"S2":0.0,"S3":0.001},
{"snapshot":74,"S0":0.52,"S1":0.34,"S2":0.035,"S3":0.015},
{"snapshot":75,"S0":0.52,"S1":0.164,"S2":0.147,"S3":0.0},
{"snapshot":76,"S0":0.545,"S1":0.318,"S2":0.003,"S3":0.037},
{"snapshot":77,"S0":0.56,"S1":0.05,"S2":0.167,"S3":0.01},
{"snapshot":78,"S0":0.60,"S1":0.22,"S2":0.018,"S3":0.062},
{"snapshot":79,"S0":0.58,"S1":0.237,"S2":0.01,"S3":0.083},
{"snapshot":80,"S0":0.52,"S1":0.16,"S2":0.015,"S3":0.01},
{"snapshot":81,"S0":0.63,"S1":0.04,"S2":0.003,"S3":0.18},
{"snapshot":82,"S0":0.474,"S1":0.288,"S2":0.001,"S3":0.024},
{"snapshot":83,"S0":0.468,"S1":0.19,"S2":0.029,"S3":0.029},
{"snapshot":84,"S0":0.55,"S1":0.217,"S2":0.007,"S3":0.003},
{"snapshot":85,"S0":0.56,"S1":0.134,"S2":0.071,"S3":0.037},
{"snapshot":86,"S0":0.614,"S1":0.133,"S2":0.003,"S3":0.021},
{"snapshot":87,"S0":0.583,"S1":0.215,"S2":0.046,"S3":0.012},
{"snapshot":88,"S0":0.55,"S1":0.125,"S2":0.082,"S3":0.046},
{"snapshot":89,"S0":0.63,"S1":0.183,"S2":0.007,"S3":0.046},
{"snapshot":90,"S0":0.564,"S1":0.048,"S2":0.01,"S3":0.116},
{"snapshot":91,"S0":0.465,"S1":0.21,"S2":0.048,"S3":0.106},
{"snapshot":92,"S0":0.52,"S1":0.168,"S2":0.018,"S3":0.071},
{"snapshot":93,"S0":0.58,"S1":0.055,"S2":0.159,"S3":0.035},
{"snapshot":94,"S0":0.645,"S1":0.254,"S2":0.012,"S3":0.063},
{"snapshot":95,"S0":0.458,"S1":0.062,"S2":0.20,"S3":0.003},
{"snapshot":96,"S0":0.458,"S1":0.285,"S2":0.007,"S3":0.069},
{"snapshot":97,"S0":0.557,"S1":0.16,"S2":0.19,"S3":0.003},
{"snapshot":98,"S0":0.534,"S1":0.046,"S2":0.234,"S3":0.001},
{"snapshot":99,"S0":0.60,"S1":0.168,"S2":0.046,"S3":0.003}
]
},
"vconcat": [
{
  "width": 715, "height": 237,
  "title": {"text": "MM water"},
  "data": {"name": "mm_ev"},
  "transform": [{"fold": ["S0","S1","S2","S3","S4","S5"], "as": ["series","value"]}],
  "mark": {"type": "line", "strokeWidth": 1.2},
  "encoding": {
    "x": {"field": "snapshot", "type": "quantitative", "scale": {"domain": [0,100], "nice": false},
          "axis": {"values": [0,10,20,30,40,50,60,70,80,90,100], "labels": false, "title": null,
                   "tickSize": {"condition": {"test": "datum.value % 20 === 0", "value": 12}, "value": 6}}},
    "y": {"field": "value", "type": "quantitative", "scale": {"domain": [2,5], "nice": false, "zero": false},
          "axis": {"values": [2,2.25,2.5,2.75,3,3.25,3.5,3.75,4,4.25,4.5,4.75,5],
                   "labelExpr": "datum.value % 0.5 === 0 ? '' + datum.value : ''",
                   "tickSize": {"condition": {"test": "datum.value % 0.5 === 0", "value": 12}, "value": 6},
                   "title": "Ev (eV)", "titlePadding": 9}},
    "color": {"field": "series", "type": "nominal", "legend": null,
              "scale": {"domain": ["S0","S1","S2","S3","S4","S5"], "range": ["#000000","#ff0000","#00ff00","#0000ff","#ffff00","#bc8f8f"]}}
  }
},
{
  "width": 715, "height": 237,
  "data": {"name": "mm_f"},
  "transform": [{"fold": ["S0","S1","S2","S3","S4","S5"], "as": ["series","value"]}],
  "mark": {"type": "line", "strokeWidth": 1.2},
  "encoding": {
    "x": {"field": "snapshot", "type": "quantitative", "scale": {"domain": [0,100], "nice": false},
          "axis": {"values": [0,10,20,30,40,50,60,70,80,90,100],
                   "labelExpr": "datum.value % 20 === 0 ? '' + datum.value : ''",
                   "title": "Snapshot", "titlePadding": 0,
                   "tickSize": {"condition": {"test": "datum.value % 20 === 0", "value": 12}, "value": 6}}},
    "y": {"field": "value", "type": "quantitative", "scale": {"domain": [0,0.8], "nice": false},
          "axis": {"values": [0,0.1,0.2,0.3,0.4,0.5,0.6,0.7,0.8],
                   "labelExpr": "round(datum.value * 10) % 2 === 0 ? '' + datum.value : ''",
                   "tickSize": {"condition": {"test": "round(datum.value * 10) % 2 === 0", "value": 12}, "value": 6},
                   "title": "Oscillator Strength", "titlePadding": 16}},
    "color": {"field": "series", "type": "nominal", "legend": null,
              "scale": {"domain": ["S0","S1","S2","S3","S4","S5"], "range": ["#000000","#ff0000","#00ff00","#0000ff","#ffff00","#bc8f8f"]}}
  }
},
{
  "width": 715, "height": 6,
  "view": {"stroke": null},
  "data": {"values": []},
  "mark": {"type": "point"}
},
{
  "width": 715, "height": 237,
  "title": {"text": "QM water"},
  "data": {"name": "qm_ev"},
  "transform": [{"fold": ["S0","S1","S2","S3"], "as": ["series","value"]}],
  "mark": {"type": "line", "strokeWidth": 1.2},
  "encoding": {
    "x": {"field": "snapshot", "type": "quantitative", "scale": {"domain": [0,100], "nice": false},
          "axis": {"values": [0,10,20,30,40,50,60,70,80,90,100], "labels": false, "title": null,
                   "tickSize": {"condition": {"test": "datum.value % 20 === 0", "value": 12}, "value": 6}}},
    "y": {"field": "value", "type": "quantitative", "scale": {"domain": [2,5], "nice": false, "zero": false},
          "axis": {"values": [2,2.25,2.5,2.75,3,3.25,3.5,3.75,4,4.25,4.5,4.75,5],
                   "labelExpr": "datum.value % 0.5 === 0 ? '' + datum.value : ''",
                   "tickSize": {"condition": {"test": "datum.value % 0.5 === 0", "value": 12}, "value": 6},
                   "title": "Ev (eV)", "titlePadding": 9}},
    "color": {"field": "series", "type": "nominal", "legend": null,
              "scale": {"domain": ["S0","S1","S2","S3"], "range": ["#000000","#ff0000","#00ff00","#0000ff"]}}
  }
},
{
  "width": 715, "height": 237,
  "data": {"name": "qm_f"},
  "transform": [{"fold": ["S0","S1","S2","S3"], "as": ["series","value"]}],
  "mark": {"type": "line", "strokeWidth": 1.2},
  "encoding": {
    "x": {"field": "snapshot", "type": "quantitative", "scale": {"domain": [0,100], "nice": false},
          "axis": {"values": [0,10,20,30,40,50,60,70,80,90,100],
                   "labelExpr": "datum.value % 20 === 0 ? '' + datum.value : ''",
                   "title": "Snapshot", "titlePadding": 0,
                   "tickSize": {"condition": {"test": "datum.value % 20 === 0", "value": 12}, "value": 6}}},
    "y": {"field": "value", "type": "quantitative", "scale": {"domain": [0,0.8], "nice": false},
          "axis": {"values": [0,0.1,0.2,0.3,0.4,0.5,0.6,0.7,0.8],
                   "labelExpr": "round(datum.value * 10) % 2 === 0 ? '' + datum.value : ''",
                   "tickSize": {"condition": {"test": "round(datum.value * 10) % 2 === 0", "value": 12}, "value": 6},
                   "title": "Oscillator Strength", "titlePadding": 16}},
    "color": {"field": "series", "type": "nominal", "legend": null,
              "scale": {"domain": ["S0","S1","S2","S3"], "range": ["#000000","#ff0000","#00ff00","#0000ff"]}}
  }
}
]
}
